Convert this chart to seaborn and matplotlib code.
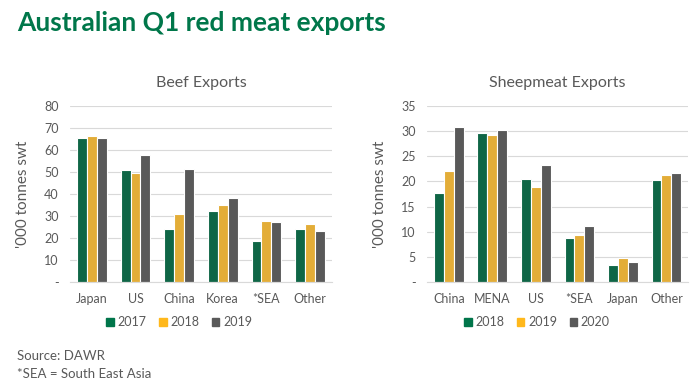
import matplotlib
matplotlib.use("Agg")
import matplotlib.pyplot as plt
import pandas as pd
import seaborn as sns

# beef exports ('000 tonnes swt)
beef_markets = ["Japan", "US", "China", "Korea", "*SEA", "Other"]
beef_years = ["2017", "2018", "2019"]
beef_2017 = [65.3, 50.8, 24.3, 32.5, 18.5, 24.3]
beef_2018 = [66.5, 49.4, 30.8, 35.1, 27.8, 26.4]
beef_2019 = [65.7, 57.8, 51.6, 38.1, 27.3, 23.4]

# sheepmeat exports ('000 tonnes swt)
sheep_markets = ["China", "MENA", "US", "*SEA", "Japan", "Other"]
sheep_years = ["2018", "2019", "2020"]
sheep_2018 = [17.8, 29.7, 20.5, 8.8, 3.3, 20.3]
sheep_2019 = [22.0, 29.3, 18.8, 9.4, 4.7, 21.2]
sheep_2020 = [30.9, 30.2, 23.2, 11.2, 4.0, 21.7]

beef_ticks = [0, 10, 20, 30, 40, 50, 60, 70, 80]
sheep_ticks = [0, 5, 10, 15, 20, 25, 30, 35]

colors = ["#00754A", "#FFB81C", "#595959"]
green = "#00774A"
grey = "#595959"


def long_df(markets, years, series):
    rows = []
    for yr, vals in zip(years, series):
        for m, v in zip(markets, vals):
            rows.append({"Market": m, "Year": yr, "Value": v})
    return pd.DataFrame(rows)


sns.set_style("white")
plt.rcParams["font.family"] = ["Lato", "DejaVu Sans"]

fig = plt.figure(figsize=(7, 3.9), dpi=100)
ax1 = fig.add_axes([0.1, 0.277, 0.374, 0.451])
ax2 = fig.add_axes([0.61, 0.277, 0.373, 0.451])


def draw(ax, df, markets, years, ticks, title, leg_x):
    sns.barplot(data=df, x="Market", y="Value", hue="Year", order=markets,
                hue_order=years, palette=colors, width=0.68, ax=ax,
                edgecolor="white", linewidth=0.8, legend=False)
    ax.set_ylim(0, ticks[-1])
    ax.set_yticks(ticks)
    ax.set_yticklabels(["-"] + [str(t) for t in ticks[1:]])
    ax.grid(axis="y", color="#D9D9D9", lw=0.8)
    ax.set_axisbelow(True)
    sns.despine(ax=ax, left=True, top=True, right=True)
    ax.spines["bottom"].set_color("#D9D9D9")
    ax.tick_params(axis="both", length=0, labelsize=9, colors=grey, pad=8)
    ax.set_xlabel("")
    ax.set_ylabel("'000 tonnes swt", fontsize=11, color=grey, labelpad=10)
    ax.set_title(title, fontsize=11.5, color=grey, pad=14)
    handles = [plt.Rectangle((0, 0), 1, 1, color=c) for c in colors]
    fig.legend(handles, years, loc="center", bbox_to_anchor=(leg_x, 0.174),
               ncol=3, frameon=False, fontsize=9, handlelength=0.6,
               handleheight=0.6, handletextpad=0.3, columnspacing=1.0,
               labelcolor=grey)


draw(ax1, long_df(beef_markets, beef_years, [beef_2017, beef_2018, beef_2019]),
     beef_markets, beef_years, beef_ticks, "Beef Exports", 0.256)
draw(ax2, long_df(sheep_markets, sheep_years, [sheep_2018, sheep_2019, sheep_2020]),
     sheep_markets, sheep_years, sheep_ticks, "Sheepmeat Exports", 0.767)

fig.text(0.024, 0.942, "Australian Q1 red meat exports", fontsize=19,
         fontweight="bold", color=green, va="center")
fig.text(0.024, 0.088, "Source: DAWR", fontsize=9.5, color=grey, va="center")
fig.text(0.024, 0.042, "*SEA = South East Asia", fontsize=9.5, color=grey, va="center")

fig.savefig("out.png", dpi=100)
